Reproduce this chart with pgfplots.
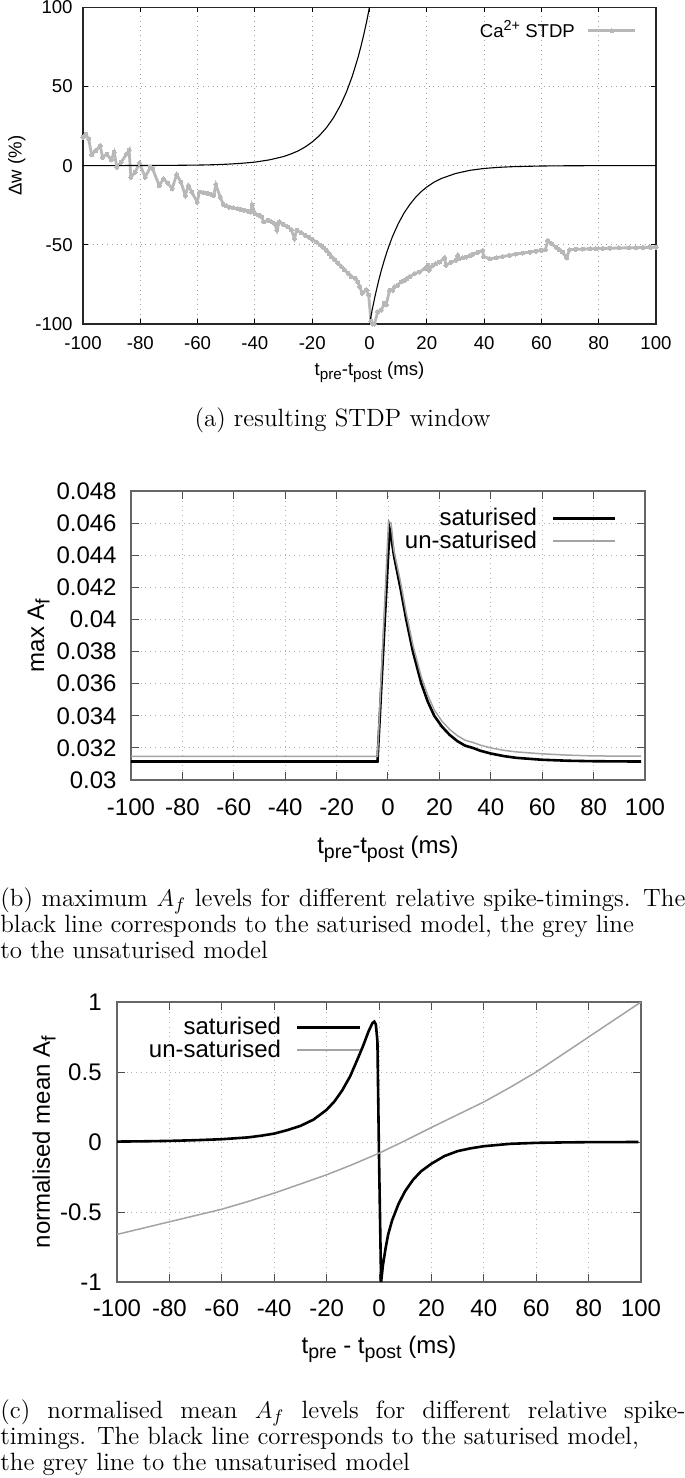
\documentclass[border=0pt]{standalone}
\usepackage{fontspec}
\usepackage{pgfplots}
\pgfplotsset{compat=1.18}
\newfontfamily\hv{Liberation Sans}
\definecolor{gA}{gray}{0.72}
\definecolor{gB}{gray}{0.64}
\newcommand\capfont{\fontsize{12.5}{14}\selectfont}
\newcommand\sbA[1]{\raisebox{-2.2pt}{\fontsize{7.6}{8}\selectfont #1}}
\newcommand\spA[1]{\raisebox{3.6pt}{\fontsize{7.2}{8}\selectfont #1}}
\newcommand\sbB[1]{\raisebox{-2.8pt}{\fontsize{9.8}{10}\selectfont #1}}
\pgfplotsset{
  gp/.style={
    scale only axis, xmin=-100, xmax=100,
    xtick={-100,-80,...,100},
    xticklabels={-100,-80,-60,-40,-20,0,20,40,60,80,100},
    tick align=inside,
    grid=major,
    scaled y ticks=false, scaled x ticks=false,
    legend plot pos=right,
    legend cell align=right,
  }
}
\begin{document}
\begin{tikzpicture}
\path[use as bounding box] (0,0) rectangle (342.5pt,-739pt);

% ---------------- panel (a)
\begin{axis}[gp,
  at={(41.5pt,-3.6pt)}, anchor=north west,
  width=286.5pt, height=158.4pt,
  ymin=-100, ymax=100,
  ytick={-100,-50,0,50,100}, yticklabels={-100,-50,0,50,100},
  major tick length=2.5pt,
  major tick style={black, line width=0.5pt},
  major grid style={gray!75, dotted, line width=0.45pt},
  axis line style={black!85, line width=0.6pt},
  font={\hv\fontsize{9.3}{11}\selectfont},
  xticklabel style={anchor=base, yshift=-12.8pt, inner sep=0pt},
  yticklabel style={anchor=east, xshift=-5pt, inner sep=0pt},
  xlabel={t\sbA{pre}-t\sbA{post} (ms)},
  xlabel style={at={(axis description cs:0.5,0)}, anchor=base, yshift=-25.7pt, inner sep=0pt},
  ylabel={Δw (\%)},
  ylabel style={at={(axis description cs:-0.107,0.5)}, anchor=base, inner sep=0pt},
  legend style={draw=none, fill=none, at={(0.967,0.965)}, anchor=north east, inner sep=0pt,
    font={\hv\fontsize{9.3}{11}\selectfont}, nodes={inner sep=1pt},
    /tikz/every odd column/.append style={column sep=5pt}},
  legend image code/.code={\draw[mark repeat=2,mark phase=2,#1] plot coordinates {(0pt,0pt) (11.75pt,0pt) (23.5pt,0pt)};},
]
\addplot[gA, line width=1.4pt, mark=*, mark size=1.0pt, mark options={fill=gA, draw=gA, line width=0pt}] coordinates {
(-100,17.8) (-99,19.9) (-98,16.7) (-97,6.9) (-95.5,9.4) (-94,12.6) (-93.2,5.2) (-91.7,7.3)
(-90.2,3.6) (-89.1,8.4) (-88.2,-1.0) (-86.7,2.1) (-84.8,7.3) (-83.9,9.8) (-83.3,-7.3) (-81.8,-4.2)
(-80.3,1.5) (-78.3,-7.3) (-76.5,-1.0) (-75.7,-2.1) (-73.4,-12.6) (-71.9,-8.4) (-70.4,-11.1)
(-68.9,-14.6) (-67.3,-5.6) (-65.8,-10.5) (-64.3,-18.8) (-63.2,-12.6) (-62,-16.7) (-60.2,-23.0)
(-59.3,-16.7) (-58,-17.0) (-56.7,-17.4) (-55.5,-18.0) (-54.4,-18.8) (-53.6,-12.1) (-52.1,-19.9) (-51,-24.5)
(-50,-25.5) (-49,-26.2) (-47.5,-26.7) (-46,-27.2) (-44.8,-27.7) (-43.7,-28.2) (-42.5,-28.8) (-41.4,-29.3) (-41,-25.1)
(-39.9,-30.3) (-38.7,-31.3) (-37.6,-32.4) (-36.9,-35.6) (-35.3,-34.5) (-34.2,-35.5) (-33.1,-36.6) (-32.3,-40.8)
(-31.5,-35.6) (-30,-37.1) (-28.5,-38.7) (-27.3,-40.5) (-26.2,-46) (-25.4,-40.8) (-23.9,-42.3) (-22.4,-43.9) (-21.2,-45.2)
(-20,-46.5) (-18.5,-48.3) (-17.1,-50.2) (-16,-51.8) (-15,-53.5) (-14.1,-55.5) (-13.3,-57.5) (-12.1,-59.5) (-11,-61.5)
(-9.8,-63.7) (-8.7,-65.9) (-7.5,-68) (-6.4,-70.1) (-4.9,-71.1) (-4.1,-73.5) (-3.4,-76.4) (-2.6,-80.5)
(-1.1,-78.5) (-0.3,-81.6) (0.5,-98.3) (1.2,-100) (1.7,-100) (2.9,-92.3) (4.1,-91.2)
(5.2,-87) (5.8,-88) (7,-78.7) (8.1,-78.7) (8.7,-76.6) (9.9,-75.5) (11,-73.4) (12.2,-72.4)
(13.1,-71.3) (14,-70.3) (15.7,-68.2) (17.4,-67.2) (19.2,-65.1) (20.3,-63) (20.8,-66) (22.1,-63)
(23.2,-62) (24.4,-60.9) (26.2,-58.2) (26.7,-63) (28.5,-60.9) (30.2,-59.8) (30.8,-56.7) (31.4,-58.8)
(32.5,-58.2) (33.7,-57.7) (35,-56.8) (36,-56) (37.7,-54.8) (39.5,-53.6) (39.8,-57.3) (41.9,-58.8)
(44.2,-58.2) (46.5,-57.4) (48.8,-56.7) (51,-55.9) (53.5,-55.2) (56,-54.6) (58.1,-54) (60,-53.5) (61.4,-53.1)
(62.2,-47.3) (63.6,-49.4) (65.1,-51.5) (66.2,-53) (67.4,-54.6) (68.8,-58.2) (69.8,-53.1)
(72,-52.9) (74.4,-52.7) (77,-52.5) (79,-52.4) (81.4,-52.3) (84,-52.2) (87,-52.0) (90.7,-51.9)
(93,-51.8) (95.5,-51.7) (98,-51.6) (100,-51.5)
};
\addlegendentry{Ca\spA{2+} STDP}
\addplot[black, line width=0.55pt, forget plot] coordinates {
(-100,0.01) (-90,0.02) (-80,0.05) (-70,0.13) (-60,0.33) (-55,0.53) (-50,0.86) (-45,1.4) (-40,2.2)
(-35,3.6) (-30,5.7) (-27.5,7.3) (-25,9.2) (-22.5,11.7) (-20,14.9) (-17.5,18.9) (-15,24.0)
(-12.5,30.4) (-10,38.6) (-8,46.7) (-6,56.5) (-4,68.3) (-3,75.2) (-2,82.7) (-1,90.9) (0,100)
};
\addplot[black, line width=0.55pt, forget plot] coordinates {
(0,-100) (1,-90.5) (2,-81.9) (3,-74.1) (4,-67.0) (5,-60.7) (6,-54.9) (7,-49.7) (8,-44.9) (10,-36.8)
(12,-30.1) (14,-24.7) (16,-20.2) (18,-16.5) (20,-13.5) (22.5,-10.5) (25,-8.2) (30,-5.0) (35,-3.0)
(40,-1.8) (45,-1.1) (50,-0.67) (60,-0.25) (70,-0.09) (80,-0.03) (90,-0.01) (100,0)
};
\end{axis}

% ---------------- panel (b)
\begin{axis}[gp,
  at={(65.5pt,-245.5pt)}, anchor=north west,
  width=257pt, height=144.5pt,
  ymin=0.03, ymax=0.048,
  ytick={0.030,0.032,0.034,0.036,0.038,0.040,0.042,0.044,0.046,0.048},
  yticklabels={0.03,0.032,0.034,0.036,0.038,0.04,0.042,0.044,0.046,0.048},
  major tick length=4pt,
  major tick style={black!70, line width=0.5pt},
  major grid style={gray!60, dotted, line width=0.45pt},
  axis line style={black!60, line width=0.6pt},
  font={\hv\fontsize{12}{14}\selectfont},
  xticklabel style={anchor=base, yshift=-17.8pt, inner sep=0pt},
  yticklabel style={anchor=east, xshift=-7pt, inner sep=0pt},
  xlabel={t\sbB{pre}-t\sbB{post} (ms)},
  xlabel style={at={(axis description cs:0.5,0)}, anchor=base, yshift=-36.5pt, inner sep=0pt},
  ylabel={max A\sbB{f}},
  ylabel style={at={(axis description cs:-0.169,0.5)}, anchor=base, inner sep=0pt},
  legend style={draw=none, fill=none, at={(0.9455,0.945)}, anchor=north east, inner sep=0pt,
    font={\hv\fontsize{12}{12}\selectfont}, nodes={inner sep=0.5pt}, row sep=0pt,
    /tikz/every odd column/.append style={column sep=7pt}},
  legend image code/.code={\draw[#1] (0pt,0pt) -- (31pt,0pt);},
]
\addplot[black, line width=1.3pt] coordinates {
(-100,0.03115) (-4.1,0.03115) (0.6,0.04565) (1.2,0.0452) (2.3,0.0440) (4.8,0.0420) (7.1,0.0400) (9.7,0.0380)
(13,0.0360) (15.5,0.03487) (18,0.0340) (21,0.03332) (24,0.03281) (27,0.03242) (30,0.03214) (33,0.0320)
(36,0.03182) (40,0.03165) (45,0.03149) (50,0.03138) (60,0.03126) (70,0.0312) (80,0.03117) (98.5,0.03115)
};
\addlegendentry{saturised}
\addplot[gB, line width=0.75pt] coordinates {
(-100,0.03147) (-4.1,0.03147) (0.2,0.0461) (1.2,0.0460) (2.3,0.0443) (4.8,0.0424) (7.1,0.0404) (9.7,0.0384)
(13,0.0364) (15.5,0.03527) (18,0.03437) (21,0.03366) (24,0.03315) (27,0.03276) (30,0.03248) (33,0.03234)
(36,0.03217) (40,0.0320) (45,0.03185) (50,0.03175) (60,0.03163) (70,0.03155) (80,0.0315) (98.5,0.03148)
};
\addlegendentry{un-saturised}
\end{axis}

% ---------------- panel (c)
\begin{axis}[gp,
  at={(58.5pt,-501pt)}, anchor=north west,
  width=262pt, height=140pt,
  ymin=-1, ymax=1,
  ytick={-1,-0.5,0,0.5,1}, yticklabels={-1,-0.5,0,0.5,1},
  major tick length=4pt,
  major tick style={black!70, line width=0.5pt},
  major grid style={gray!60, dotted, line width=0.45pt},
  axis line style={black!60, line width=0.6pt},
  font={\hv\fontsize{12}{14}\selectfont},
  xticklabel style={anchor=base, yshift=-17.3pt, inner sep=0pt},
  yticklabel style={anchor=east, xshift=-7.5pt, inner sep=0pt},
  xlabel={t\sbB{pre} - t\sbB{post} (ms)},
  xlabel style={at={(axis description cs:0.5,0)}, anchor=base, yshift=-35.5pt, inner sep=0pt},
  ylabel={normalised mean A\sbB{f}},
  ylabel style={at={(axis description cs:-0.128,0.5)}, anchor=base, inner sep=0pt},
  legend style={draw=none, fill=none, at={(0.4676,0.95)}, anchor=north east, inner sep=0pt,
    font={\hv\fontsize{12}{12}\selectfont}, nodes={inner sep=0.5pt}, row sep=0pt,
    /tikz/every odd column/.append style={column sep=7pt}},
  legend image code/.code={\draw[#1] (0pt,0pt) -- (31.5pt,0pt);},
]
\addplot[black, line width=1.3pt] coordinates {
(-100,0.003) (-90,0.005) (-80,0.008) (-70,0.013) (-60,0.02) (-50,0.033) (-45,0.045) (-40,0.06)
(-35,0.085) (-30,0.115) (-25,0.16) (-20,0.23) (-17,0.29) (-14,0.37) (-11,0.47) (-8,0.6) (-6,0.69)
(-4,0.79) (-2.5,0.85) (-1.8,0.86) (-1.2,0.84) (-0.6,0.72) (0,-0.1) (0.8,-1.0) (1.5,-0.88)
(2.5,-0.76) (3.5,-0.66) (5,-0.56) (7.5,-0.44) (10,-0.35) (13,-0.27) (16,-0.21) (20,-0.155)
(25,-0.1) (30,-0.065) (35,-0.045) (40,-0.03) (50,-0.013) (60,-0.006) (70,-0.003) (80,-0.001) (99,0)
};
\addlegendentry{saturised}
\addplot[gB, line width=0.75pt] coordinates {
(-100,-0.66) (-90,-0.615) (-80,-0.57) (-70,-0.525) (-60,-0.48) (-50,-0.425) (-40,-0.365)
(-30,-0.3) (-20,-0.234) (-10,-0.16) (0,-0.08) (10,0.01) (20,0.104) (30,0.195) (40,0.286)
(50,0.39) (60,0.5) (70,0.625) (80,0.75) (90,0.875) (100,1.0)
};
\addlegendentry{un-saturised}
\end{axis}

% ---------------- captions
\node[anchor=base, inner sep=0pt, font=\capfont] at (171.25pt,-213pt) {(a) resulting STDP window};
\node[anchor=base west, inner sep=0pt, font=\capfont] at (0pt,-453pt) {\makebox[342.5pt][s]{(b) maximum $A_f$ levels for different relative spike-timings. The}};
\node[anchor=base west, inner sep=0pt, font=\capfont] at (0pt,-466pt) {black line corresponds to the saturised model, the grey line};
\node[anchor=base west, inner sep=0pt, font=\capfont] at (0pt,-479pt) {to the unsaturised model};
\node[anchor=base west, inner sep=0pt, font=\capfont] at (0pt,-709pt) {\makebox[342.5pt][s]{(c) normalised mean $A_f$ levels for different relative spike-}};
\node[anchor=base west, inner sep=0pt, font=\capfont] at (0pt,-722pt) {timings. The black line corresponds to the saturised model,};
\node[anchor=base west, inner sep=0pt, font=\capfont] at (0pt,-735pt) {the grey line to the unsaturised model};
\end{tikzpicture}
\end{document}
